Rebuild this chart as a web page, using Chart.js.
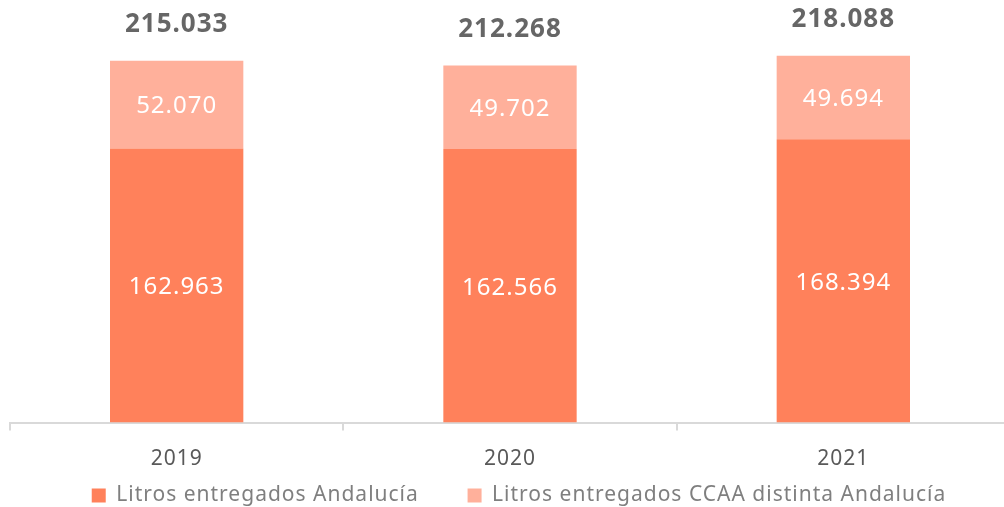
<!DOCTYPE html>
<html>
<head>
<meta charset="utf-8">
<script src="https://cdn.jsdelivr.net/npm/chart.js@4"></script>
<style>
  html, body { margin: 0; padding: 0; background: #fff; overflow: hidden; }
  /* canvas slightly larger than the window, like the cropped original */
  #wrap { width: 1010px; height: 516px; }
</style>
</head>
<body>
<div id="wrap"><canvas id="c"></canvas></div>
<script>
// Litros entregados por año
const years = ['2019', '2020', '2021'];
const andalucia = [162963, 162566, 168394];
const otrasCCAA = [52070, 49702, 49694];
const totals = [215033, 212268, 218088];
const seriesNames = ['Litros entregados Andalucía', 'Litros entregados CCAA distinta Andalucía'];

const fmt = n => String(n).replace(/\B(?=(\d{3})+(?!\d))/g, '.');

// wider text, the original font is a wide rounded one
const spacing = {
  id: 'spacing',
  beforeLayout(chart) { chart.ctx.letterSpacing = '1px'; },
  afterLayout(chart) {
    // legend sits a bit right of centre in the original
    chart.legend.left += 9;
    chart.legend.right += 9;
  },
  beforeDraw(chart) { chart.ctx.letterSpacing = '1px'; }
};

const labelPlugin = {
  id: 'barLabels',
  afterDatasetsDraw(chart) {
    const ctx = chart.ctx;
    ctx.save();
    ctx.textAlign = 'center';
    ctx.textBaseline = 'middle';
    ctx.fillStyle = '#fff';
    ctx.font = '24px "Noto Sans"';
    chart.data.datasets.forEach((ds, i) => {
      chart.getDatasetMeta(i).data.forEach((bar, j) => {
        const mid = (bar.y + bar.base) / 2;
        ctx.fillText(fmt(ds.data[j]), bar.x, mid + 2);
      });
    });
    // totals above the stack
    const top = chart.getDatasetMeta(1).data;
    ctx.fillStyle = '#666';
    ctx.font = 'bold 26px "Noto Sans"';
    top.forEach((bar, j) => {
      ctx.fillText(fmt(totals[j]), bar.x, bar.y - 36);
    });
    ctx.restore();
  }
};

new Chart(document.getElementById('c'), {
  type: 'bar',
  data: {
    labels: years,
    datasets: [
      { label: seriesNames[0], data: andalucia, backgroundColor: '#ff815b' },
      { label: seriesNames[1], data: otrasCCAA, backgroundColor: '#ffb09b' }
    ]
  },
  options: {
    responsive: true,
    maintainAspectRatio: false,
    animation: false,
    events: [],
    layout: { padding: { top: 2, left: 10, right: 0, bottom: 0 } },
    datasets: { bar: { categoryPercentage: 1, barPercentage: 0.4 } },
    plugins: {
      tooltip: { enabled: false },
      legend: {
        position: 'bottom',
        labels: {
          color: '#7f7f7f',
          font: { family: 'Noto Sans', size: 21 },
          boxWidth: 14,
          boxHeight: 14,
          padding: 10,
          // extra gap after the first entry
          generateLabels(chart) {
            const items = Chart.defaults.plugins.legend.labels.generateLabels(chart);
            items[0].text += '      ';
            return items;
          }
        }
      }
    },
    scales: {
      x: {
        stacked: true,
        offset: true,
        border: { color: '#d9d9d9', width: 2 },
        grid: { offset: true, drawOnChartArea: false, color: '#d9d9d9', tickLength: 8, lineWidth: 2 },
        ticks: { color: '#595959', font: { family: 'Noto Sans', size: 21 }, padding: 16 },
        afterFit(scale) { scale.height = 52.5; }
      },
      y: { stacked: true, display: false, min: 0, max: 250000 }
    }
  },
  plugins: [spacing, labelPlugin]
});
</script>
</body>
</html>
